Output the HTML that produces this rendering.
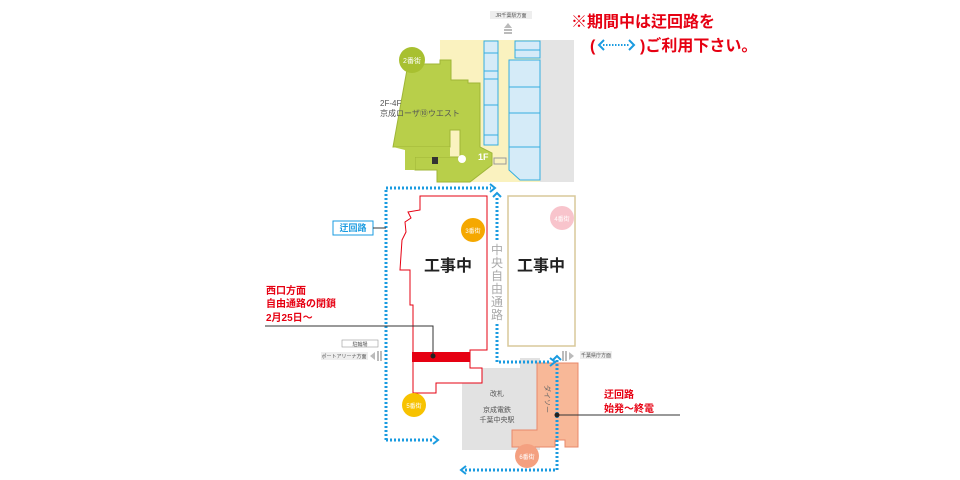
<!DOCTYPE html>
<html><head><meta charset="utf-8"><style>
html,body{margin:0;padding:0;background:#fff;width:960px;height:480px;overflow:hidden}
svg{display:block}
text{font-family:"Liberation Sans","Noto Sans CJK JP",sans-serif}
</style></head><body>
<svg width="960" height="480" viewBox="0 0 960 480" xmlns="http://www.w3.org/2000/svg">
<rect x="440" y="40" width="100" height="142" fill="#faf2bf"/>
<rect x="540" y="40" width="34" height="142" fill="#e4e4e4"/>
<g fill="#d5ebf8" stroke="#35aee0" stroke-width="1">
<rect x="484" y="41" width="14" height="12"/><rect x="484" y="53" width="14" height="18"/><rect x="484" y="71" width="14" height="8"/>
<rect x="484" y="79" width="14" height="26"/><rect x="484" y="105" width="14" height="30"/><rect x="484" y="135" width="14" height="10"/>
<rect x="515" y="41" width="25" height="9"/><rect x="515" y="50" width="25" height="8"/>
<polygon points="509,60 540,60 540,87 509,87"/><rect x="509" y="87" width="31" height="26"/><rect x="509" y="113" width="31" height="34"/>
<polygon points="509,147 540,147 540,180 520,180 509,170"/>
</g>
<polygon points="393,147 408,64 440,64 440,60 451,60 451,80 468,80 468,83 480,83 480,147 492,153 492,165 470,182 437,182 437,170 415,170 415,157 460,157 460,130 450,130 450,147" fill="#b8cf4a" stroke="#9fb637" stroke-width="1"/>
<polygon points="393,147 450,147 450,157 415,157 415,170 405,170 405,150" fill="#b8cf4a"/>
<circle cx="412" cy="60" r="13" fill="#a8c030"/>
<text x="412" y="63" font-size="7" fill="#fff" text-anchor="middle">2番街</text>
<text x="380" y="106" font-size="8" fill="#555">2F-4F</text>
<text x="380" y="116" font-size="8" fill="#555">京成ローザ⑩ウエスト</text>
<circle cx="462" cy="159" r="4" fill="#fff"/>
<text x="478" y="160" font-size="9" fill="#fff" font-weight="bold">1F</text>
<rect x="432" y="157" width="6" height="7" fill="#333"/>
<rect x="494" y="158" width="12" height="6" fill="none" stroke="#999" stroke-width="1"/>
<rect x="490" y="11" width="42" height="8" fill="#eee"/>
<text x="511" y="17" font-size="5" fill="#555" text-anchor="middle">JR千葉駅方面</text>
<polygon points="504,28 512,28 508,23" fill="#bbb"/><rect x="504" y="29" width="8" height="2" fill="#bbb"/><rect x="504" y="32" width="8" height="2" fill="#bbb"/>
<text x="571" y="27" font-size="16" font-weight="bold" fill="#e60012">※期間中は迂回路を</text>
<text x="590" y="51" font-size="16" font-weight="bold" fill="#e60012">(</text>
<text x="640" y="51" font-size="16" font-weight="bold" fill="#e60012">)ご利用下さい。</text>
<line x1="603" y1="45" x2="630" y2="45" stroke="#1a9be0" stroke-width="2" stroke-dasharray="1.5,1.5"/>
<polyline points="604,40 599,45 604,50" fill="none" stroke="#1a9be0" stroke-width="2"/>
<polyline points="629,40 634,45 629,50" fill="none" stroke="#1a9be0" stroke-width="2"/>
<polygon points="462,368 520,368 520,358 540,358 540,450 462,450" fill="#e2e2e2"/>
<text x="497" y="396" font-size="7" fill="#555" text-anchor="middle">改札</text>
<text x="497" y="412" font-size="7" fill="#555" text-anchor="middle">京成電鉄</text>
<text x="497" y="422" font-size="7" fill="#555" text-anchor="middle">千葉中央駅</text>
<polygon points="537,363 578,363 578,447 565,447 565,440 555,440 555,447 512,447 512,430 537,430" fill="#f8b898" stroke="#e8886a" stroke-width="1"/>
<text x="545" y="385" font-size="7" fill="#666" transform="rotate(90 545 385)">ダイソー</text>
<circle cx="527" cy="456" r="12" fill="#f4a080"/>
<text x="527" y="459" font-size="6" fill="#fff" text-anchor="middle">6番街</text>
<polygon points="420,196 487,196 487,350 470,350 470,368 482,368 482,383 436,383 436,393 413,393 413,305 410,305 410,270 400,270 402,240 406,232 405,222 411,218 408,212 420,210" fill="#fff" stroke="#e60012" stroke-width="1"/>
<rect x="412" y="352" width="58" height="10" fill="#e60012"/>
<rect x="508" y="196" width="67" height="150" fill="#fff" stroke="#d8c89a" stroke-width="1.5"/>
<text x="448" y="271" font-size="16" font-weight="bold" fill="#222" text-anchor="middle">工事中</text>
<text x="541" y="271" font-size="16" font-weight="bold" fill="#222" text-anchor="middle">工事中</text>
<text font-size="12" fill="#aaa" text-anchor="middle"><tspan x="497" y="254">中</tspan><tspan x="497" y="267">央</tspan><tspan x="497" y="280">自</tspan><tspan x="497" y="293">由</tspan><tspan x="497" y="306">通</tspan><tspan x="497" y="319">路</tspan></text>
<circle cx="473" cy="230" r="12" fill="#f5a800"/>
<text x="473" y="233" font-size="6" fill="#fff" text-anchor="middle">3番街</text>
<circle cx="562" cy="218" r="12" fill="#f8c4cc"/>
<text x="562" y="221" font-size="6" fill="#fff" text-anchor="middle">4番街</text>
<circle cx="414" cy="405" r="12" fill="#f7c200"/>
<text x="414" y="408" font-size="6" fill="#fff" text-anchor="middle">5番街</text>
<g fill="none" stroke="#1a9be0" stroke-width="3" stroke-dasharray="2,2">
<polyline points="386,440 386,188 491,188"/>
<line x1="386" y1="440" x2="432" y2="440"/>
<line x1="497" y1="198" x2="497" y2="240"/>
<polyline points="497,324 497,362 550,362"/>
<polyline points="557,360 557,470 465,470"/>
</g>
<g fill="none" stroke="#1a9be0" stroke-width="2">
<polyline points="490,184 495,188 490,192"/>
<polyline points="433,436 438,440 433,444"/>
<polyline points="493,197 497,193 501,197"/>
<polyline points="550,358 555,362 550,366"/>
<polyline points="553,360 557,356 561,360"/>
<polyline points="466,466 461,470 466,474"/>
</g>
<rect x="333" y="221" width="40" height="14" fill="#fff" stroke="#1a9be0" stroke-width="1"/>
<text x="353" y="231" font-size="9" font-weight="bold" fill="#1a9be0" text-anchor="middle">迂回路</text>
<line x1="373" y1="228" x2="386" y2="228" stroke="#333"/>
<text x="266" y="294" font-size="10" font-weight="bold" fill="#e60012">西口方面</text>
<text x="266" y="307" font-size="10" font-weight="bold" fill="#e60012">自由通路の閉鎖</text>
<text x="266" y="321" font-size="10" font-weight="bold" fill="#e60012">2月25日～</text>
<polyline points="265,326 433,326 433,355" fill="none" stroke="#333" stroke-width="1"/>
<circle cx="433" cy="356" r="2.5" fill="#222"/>
<text x="604" y="398" font-size="10" font-weight="bold" fill="#e60012">迂回路</text>
<text x="604" y="412" font-size="10" font-weight="bold" fill="#e60012">始発～終電</text>
<line x1="557" y1="415" x2="680" y2="415" stroke="#333"/>
<circle cx="557" cy="415" r="2.5" fill="#222"/>
<rect x="342" y="340" width="36" height="7" fill="#fff" stroke="#999" stroke-width="0.6"/>
<text x="360" y="346" font-size="5" fill="#555" text-anchor="middle">駐輪場</text>
<rect x="321" y="352" width="47" height="8" fill="#eee"/>
<text x="344" y="358" font-size="5" fill="#555" text-anchor="middle">ポートアリーナ方面</text>
<polygon points="370,356 375,352 375,360" fill="#bbb"/><rect x="377" y="351" width="2" height="10" fill="#bbb"/><rect x="380" y="351" width="2" height="10" fill="#bbb"/>
<rect x="562" y="351" width="2" height="10" fill="#bbb"/><rect x="565" y="351" width="2" height="10" fill="#bbb"/><polygon points="569,352 574,356 569,360" fill="#bbb"/>
<rect x="580" y="351" width="32" height="8" fill="#eee"/>
<text x="596" y="357" font-size="5" fill="#555" text-anchor="middle">千葉県庁方面</text>
</svg>
</body></html>
